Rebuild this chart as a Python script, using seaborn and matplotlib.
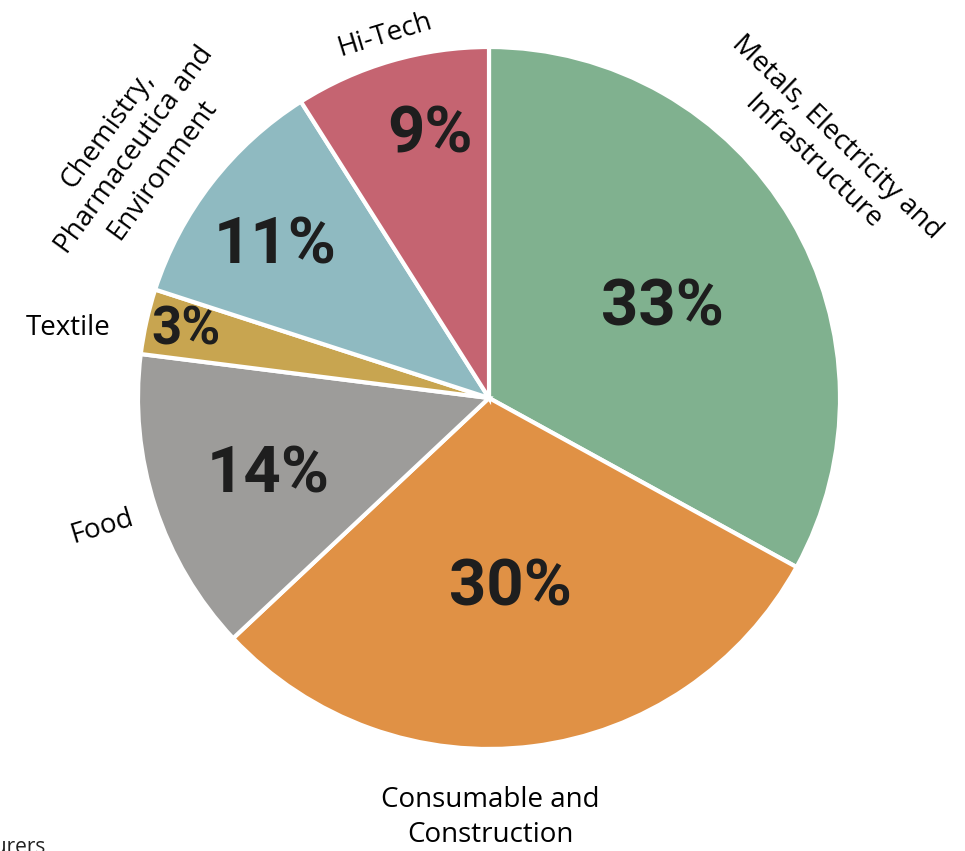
import numpy as np
import matplotlib
matplotlib.use("Agg")
import matplotlib.pyplot as plt
import seaborn as sns

# data (clockwise from 12 o'clock)
sectors = ["Metals, Electricity and\nInfrastructure", "Consumable and\nConstruction", "Food",
           "Textile", "Chemistry,\nPharmaceutica and\nEnvironment", "Hi-Tech"]
shares = [33, 30, 14, 3, 11, 9]
pct_labels = ["33%", "30%", "14%", "3%", "11%", "9%"]
colors = ["#80b18f", "#e09145", "#9d9c9a", "#c8a550", "#8fbac1", "#c56471"]

sns.set_style("white")
plt.rcParams['font.family'] = ['Open Sans', 'DejaVu Sans']

fig = plt.figure(figsize=(9.65, 8.51), dpi=100)
ax = fig.add_axes([0, 0, 1, 1])

wedges, _ = ax.pie(shares, colors=colors, startangle=90, counterclock=False,
                   radius=1.0, wedgeprops=dict(edgecolor="white", linewidth=3))

# percentage labels: distance from centre and angle nudge from wedge mid angle
pct_dist = [0.558, 0.545, 0.667, 0.886, 0.748, 0.768]
pct_nudge = [-3.2, -0.9, 1.2, 0.0, 2.4, -3.6]
pct_size = [47, 47, 47, 38, 47, 47]
for w, txt, d, da, s in zip(wedges, pct_labels, pct_dist, pct_nudge, pct_size):
    ang = np.deg2rad((w.theta1 + w.theta2) / 2 + da)
    ax.text(d * np.cos(ang), d * np.sin(ang), txt, ha="center", va="center",
            fontsize=s, fontweight="bold", family="Roboto", color="#1e1e1e")

# outer category labels (x, y, rotation)
label_pos = [(0.957, 0.707, -44), (0.003, -1.195, 0), (-1.103, -0.368, 17),
             (-1.199, 0.199, 0), (-1.009, 0.707, 54), (-0.296, 1.034, 17)]
for name, (x, y, rot) in zip(sectors, label_pos):
    ax.text(x, y, name, ha="center", va="center", rotation=rot,
            rotation_mode="anchor", fontsize=20, linespacing=1.3, color="black")

ax.text(-1.265, -1.296, "Manufacturers", ha="right", va="baseline", fontsize=15, color="#222222")

ax.set_xlim(-489 / 351, (965 - 489) / 351)
ax.set_ylim(-(851 - 398) / 351, 398 / 351)
ax.set_aspect("auto")
ax.axis("off")

fig.savefig("out.png", dpi=100, facecolor="white")
